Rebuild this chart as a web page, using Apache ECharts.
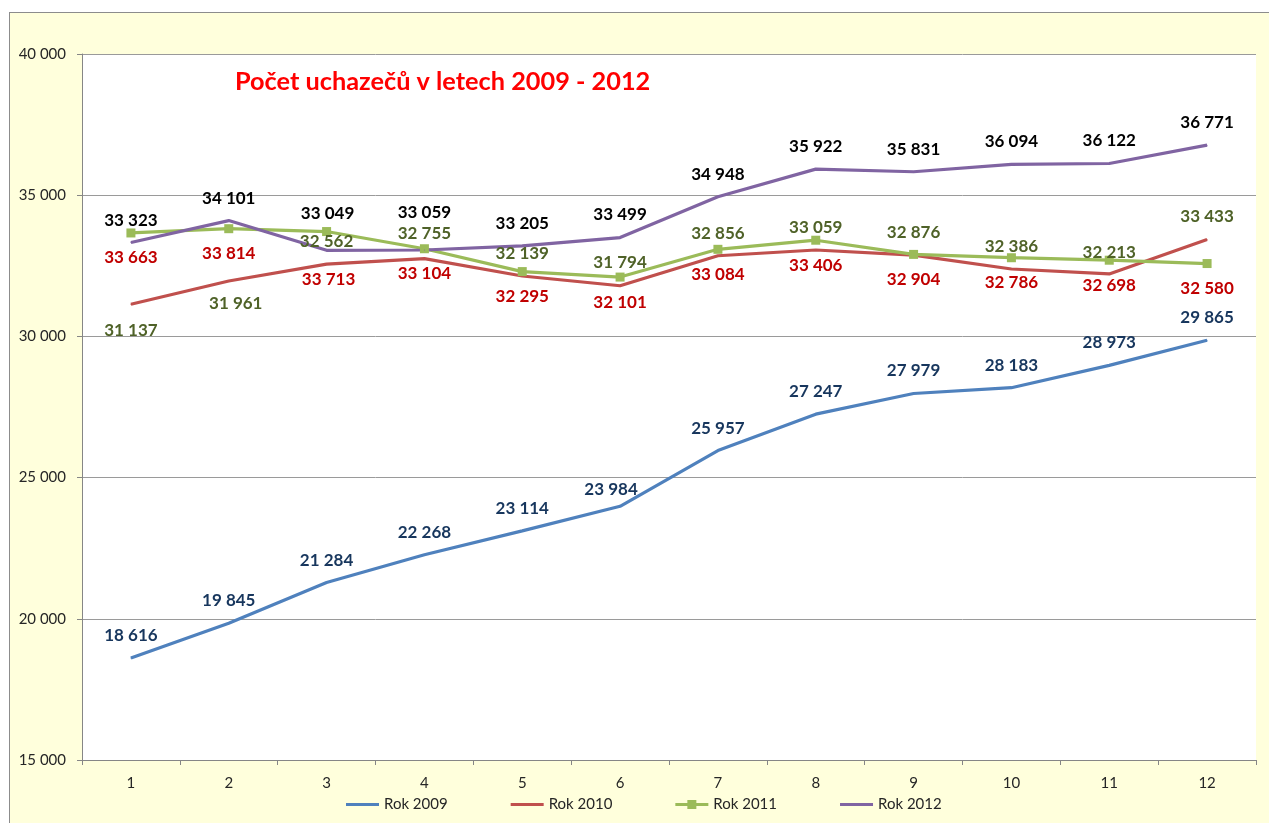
<!DOCTYPE html>
<html>
<head>
<meta charset="utf-8">
<script src="https://cdn.jsdelivr.net/npm/echarts@6/dist/echarts.min.js"></script>
<style>
  html, body { margin: 0; padding: 0; background: #ffffff; overflow: hidden; }
  #bg { position: absolute; left: 9px; top: 12px; width: 1300px; height: 850px;
        background: #FFFFDC; border-left: 1px solid #8c8c8c; border-top: 1px solid #8c8c8c; }
  #chart { position: absolute; left: 0; top: 0; width: 1269px; height: 823px; }
</style>
</head>
<body>
<div id="bg"></div>
<div id="chart"></div>
<script>
// ---- data ----
const months = ['1','2','3','4','5','6','7','8','9','10','11','12'];
const rok2009 = [18616, 19845, 21284, 22268, 23114, 23984, 25957, 27247, 27979, 28183, 28973, 29865];
const rok2010 = [31137, 31961, 32562, 32755, 32139, 31794, 32856, 33059, 32876, 32386, 32213, 33433];
const rok2011 = [33663, 33814, 33713, 33104, 32295, 32101, 33084, 33406, 32904, 32786, 32698, 32580];
const rok2012 = [33323, 34101, 33049, 33059, 33205, 33499, 34948, 35922, 35831, 36094, 36122, 36771];
const yTicks = [15000, 20000, 25000, 30000, 35000, 40000];

// ---- label placement (offset of label centre from its point, px) ----
const lab2009 = months.map((m, i) => i === 5 ? [-9, -16.5] : [0, -22.5]);
const lab2010 = [[0, 26.7], [7, 22], [0, -23], [0, -25], [0, -22], [0, -23], [0, -22.7], [0, -22.3], [0, -22.5], [0, -22.3], [0, -21.7], [0, -22.7]];
const lab2011 = [[0, 24.7], [0, 25], [2, 47.5], [0, 25], [0, 25], [0, 25], [0, 25], [0, 25], [0, 25], [0, 25], [0, 25], [0, 25]];
const lab2012 = [[0, -22.5], [0, -22.5], [1, -37], [0, -37], [0, -22.5], [0, -23.5], [0, -22.5], [0, -22.5], [0, -22.5], [0, -22.5], [0, -22.5], [0, -22.5]];

const fmt = v => String(v).replace(/\B(?=(\d{3})+(?!\d))/g, ' ');
const FONT = 'Lato, "Open Sans", sans-serif';

function mkSeries(name, values, offsets, lineColor, labelColor, symbol, symbolSize) {
  return {
    name: name,
    type: 'line',
    data: values.map((v, i) => ({ value: v, label: { offset: offsets[i] } })),
    symbol: symbol,
    symbolSize: symbolSize,
    showSymbol: true,
    itemStyle: { color: lineColor },
    lineStyle: { color: lineColor, width: 3.2 },
    emphasis: { disabled: true },
    label: {
      show: true,
      position: 'inside',
      formatter: p => fmt(p.value),
      color: labelColor,
      fontFamily: FONT,
      fontWeight: 'bold',
      fontSize: 17
    },
    z: 2
  };
}

const lineIcon = 'path://M0,0M33,9M0,3h33v3h-33z';
const squareIcon = 'path://M0,3h12v-3h9v3h12v3h-12v3h-9v-3h-12z';

const chart = echarts.init(document.getElementById('chart'), null, { renderer: 'canvas' });
chart.setOption({
  animation: false,
  backgroundColor: 'transparent',
  title: {
    text: 'Počet uchazečů v letech 2009 - 2012',
    left: 235, top: 69, padding: 0,
    textStyle: { color: '#FF0000', fontFamily: FONT, fontWeight: 'bold', fontSize: 25.3 }
  },
  legend: {
    left: 346, top: 797, padding: 0,
    itemWidth: 33, itemHeight: 9, itemGap: 63,
    selectedMode: false,
    textStyle: { color: '#262626', fontFamily: FONT, fontSize: 15, width: 66 },
    data: [
      { name: 'Rok 2009', icon: lineIcon },
      { name: 'Rok 2010', icon: lineIcon },
      { name: 'Rok 2011', icon: squareIcon },
      { name: 'Rok 2012', icon: lineIcon }
    ]
  },
  grid: { left: 82, top: 54, right: 13, bottom: 63, show: true, backgroundColor: '#ffffff', borderWidth: 0, containLabel: false },
  xAxis: {
    type: 'category',
    data: months,
    boundaryGap: true,
    axisLine: { lineStyle: { color: '#868686', width: 1 } },
    axisTick: { show: true, interval: 0, length: 5, lineStyle: { color: '#868686' } },
    axisLabel: { color: '#262626', fontFamily: FONT, fontSize: 15, margin: 16, interval: 0 },
    splitLine: { show: false }
  },
  yAxis: {
    type: 'value',
    min: yTicks[0], max: yTicks[yTicks.length - 1], interval: yTicks[1] - yTicks[0],
    axisLine: { show: true, lineStyle: { color: '#868686', width: 1 } },
    axisTick: { show: true, length: 5, lineStyle: { color: '#868686' } },
    axisLabel: { color: '#262626', fontFamily: FONT, fontSize: 15, margin: 16, formatter: v => fmt(v) },
    splitLine: { show: true, lineStyle: { color: '#9a9a9a', width: 1 } }
  },
  series: [
    mkSeries('Rok 2009', rok2009, lab2009, '#4F81BD', '#17365D', 'circle', 1),
    mkSeries('Rok 2010', rok2010, lab2010, '#C0504D', '#4F6228', 'circle', 1),
    mkSeries('Rok 2011', rok2011, lab2011, '#9BBB59', '#C00000', 'rect', 9),
    mkSeries('Rok 2012', rok2012, lab2012, '#8064A2', '#000000', 'circle', 1)
  ]
});
</script>
</body>
</html>
